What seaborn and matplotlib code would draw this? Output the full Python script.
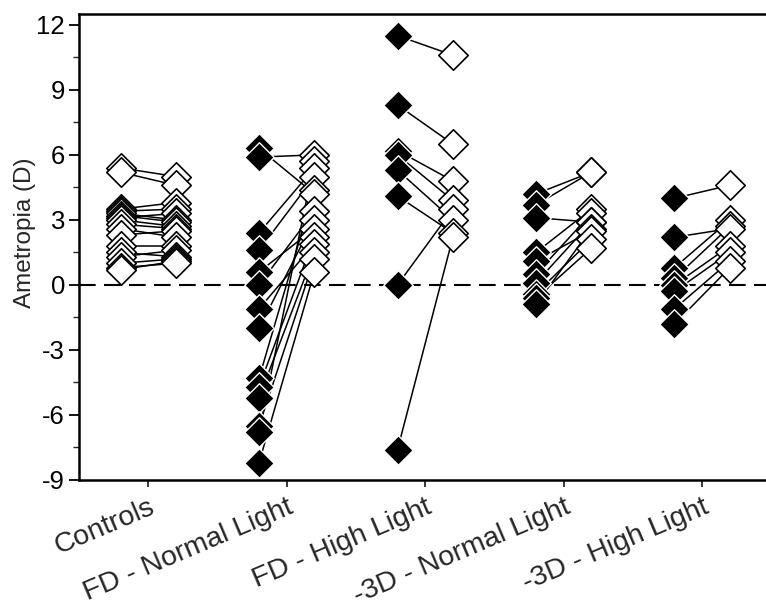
import numpy as np
import pandas as pd
import matplotlib
matplotlib.use("Agg")
import matplotlib.pyplot as plt
import seaborn as sns
from matplotlib.ticker import MultipleLocator

groups = ["Controls", "FD - Normal Light", "FD - High Light",
          "-3D - Normal Light", "-3D - High Light"]

controls_before = [5.4, 5.2, 3.5, 3.4, 3.3, 3.2, 3.1, 3.0, 2.8, 2.6, 2.3, 1.8, 1.5, 1.3, 1.0, 0.8, 0.7]
controls_after  = [5.0, 4.6, 3.8, 3.5, 3.0, 2.9, 3.3, 2.7, 2.6, 2.2, 2.5, 1.8, 1.3, 1.6, 1.2, 1.0, 1.1]

fd_normal_before = [6.3, 5.9, 2.4, 1.6, 0.6, 0.0, -1.1, -2.0, -4.3, -4.7, -5.2, -6.5, -6.8, -8.2]
fd_normal_after  = [4.2, 6.0, 5.4, 5.0, 2.6, 3.4, 1.9, 3.0, 4.4, 2.2, 1.5, 1.2, 5.7, 0.6]

fd_high_before = [11.5, 8.3, 6.2, 6.0, 5.3, 4.1, 0.0, -7.6]
fd_high_after  = [10.6, 6.5, 4.8, 3.9, 3.0, 2.4, 3.5, 2.2]

d3_normal_before = [4.2, 3.7, 3.1, 1.5, 1.1, 0.5, 0.1, -0.4, -0.6, -0.9]
d3_normal_after  = [5.2, 5.2, 2.9, 3.5, 2.5, 3.3, 2.9, 2.1, 1.7, 2.6]

d3_high_before = [4.0, 2.2, 0.8, 0.3, 0.0, -0.3, -1.1, -1.8]
d3_high_after  = [4.6, 2.6, 3.0, 2.7, 1.8, 1.5, 1.1, 0.8]

befores = [controls_before, fd_normal_before, fd_high_before, d3_normal_before, d3_high_before]
afters = [controls_after, fd_normal_after, fd_high_after, d3_normal_after, d3_high_after]

yticks = [-9, -6, -3, 0, 3, 6, 9, 12]

rows = []
pid = 0
for gi, (g, b, a) in enumerate(zip(groups, befores, afters)):
    for vb, va in zip(b, a):
        rows.append(dict(group=g, gi=gi, side="before", x=gi - 0.2, value=vb, pair=pid))
        rows.append(dict(group=g, gi=gi, side="after", x=gi + 0.2, value=va, pair=pid))
        pid += 1
df = pd.DataFrame(rows)

sns.set_style("ticks")
plt.rcParams["font.family"] = ["Liberation Sans", "DejaVu Sans"]

fig = plt.figure(figsize=(7.66, 6.12), dpi=100)
ax = fig.add_axes([0.1031, 0.2157, 0.904, 0.7614])

ax.axhline(0, color="black", lw=1.5, dashes=(8, 4), zorder=1)

sns.lineplot(data=df, x="x", y="value", units="pair", estimator=None,
             color="black", lw=1.1, ax=ax, legend=False, zorder=2, sort=False)

ms = 225
open_pts = df[(df.side == "after") | (df.gi == 0)].sort_values(["x", "value"], ascending=[True, False])
filled_pts = df[(df.side == "before") & (df.gi > 0)].sort_values(["x", "value"], ascending=[True, False])

sns.scatterplot(data=filled_pts, x="x", y="value", marker="D", s=ms,
                color="black", edgecolor="white", linewidth=1.0, ax=ax, zorder=3, legend=False)
sns.scatterplot(data=open_pts, x="x", y="value", marker="D", s=ms,
                color="white", edgecolor="black", linewidth=1.2, ax=ax, zorder=3, legend=False)

ax.set_xlim(-0.5, 4.5)
ax.set_ylim(-9, 12.5)
ax.set_xticks(range(len(groups)))
ax.set_xticklabels(groups, rotation=23, ha="right", va="top",
                   rotation_mode="anchor", fontsize=20.5)
ax.set_yticks(yticks)
ax.set_yticklabels([str(t) for t in yticks], fontsize=18.5)
ax.yaxis.set_minor_locator(MultipleLocator(1.5))
ax.set_xlabel("")
ax.set_ylabel("Ametropia (D)", fontsize=17.5)
ax.yaxis.set_label_coords(-0.062, 0.53)

for s in ["left", "bottom", "top"]:
    ax.spines[s].set_visible(True)
    ax.spines[s].set_linewidth(1.8)
    ax.spines[s].set_color("black")
ax.spines["right"].set_visible(False)

ax.tick_params(axis="y", which="major", length=7, width=1.3, direction="out", colors="black", pad=3)
ax.tick_params(axis="y", which="minor", length=4, width=1.0, direction="out")
ax.tick_params(axis="x", which="major", length=5, width=1.3, direction="out", pad=5)
ax.tick_params(top=False, right=False)

fig.savefig("out.png", dpi=100)
